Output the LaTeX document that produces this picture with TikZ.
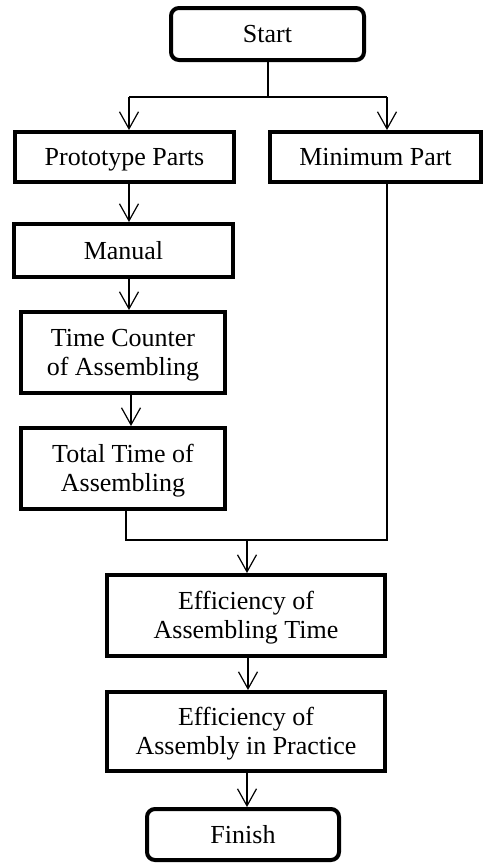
\documentclass[tikz,border=0pt]{standalone}
\usepackage{fontspec}
\setmainfont{Liberation Serif}
\usetikzlibrary{arrows.meta}
\newcommand{\twolines}[2]{\begin{tabular}[b]{@{}c@{}}#1\\#2\end{tabular}}
\begin{document}
\begin{tikzpicture}[x=1pt,y=1pt,
  box/.style={draw, line width=4pt, inner sep=0pt, align=center, font=\fontsize{26}{29.5}\selectfont},
  one/.style={text height=17.2pt, text depth=0pt},
  two/.style={text height=46.7pt, text depth=0pt},
  term/.style={box, rounded corners=8pt},
  conn/.style={line width=1.2pt},
  arr/.style={conn, -{Straight Barb[length=17pt,width=19pt,line width=1.2pt]}}]
\useasboundingbox (0,0) rectangle (484,-863);
\node[term, one, minimum width=193pt, minimum height=52pt] (start) at (267.5,-34) {Start};
\node[box, one, minimum width=219pt, minimum height=50pt] (proto) at (124.5,-157) {Prototype Parts};
\node[box, one, minimum width=211pt, minimum height=50pt] (mini) at (375.5,-157) {Minimum Part};
\node[box, one, minimum width=219pt, minimum height=53pt] (manual) at (123.5,-250.5) {Manual};
\node[box, two, minimum width=204pt, minimum height=81pt] (counter) at (123,-352.5) {\twolines{Time Counter}{of Assembling}};
\node[box, two, minimum width=204pt, minimum height=81pt] (total) at (123,-468.5) {\twolines{Total Time of}{Assembling}};
\node[box, two, minimum width=278pt, minimum height=81pt] (efftime) at (246,-615.5) {\twolines{Efficiency of}{Assembling Time}};
\node[box, two, minimum width=278pt, minimum height=79pt] (effprac) at (246,-731.5) {\twolines{Efficiency of}{Assembly in Practice}};
\node[term, one, minimum width=192pt, minimum height=51pt] (finish) at (243,-834.5) {Finish};
% top split
\coordinate (jt) at (268,-97);
\coordinate (jl) at (129,-97);
\coordinate (jr) at (387,-97);
\draw[conn] (start.south -| jt) -- (jt);
\draw[conn] (jl) -- (jr);
\draw[arr] (jl) -- (jl |- proto.north);
\draw[arr] (jr) -- (jr |- mini.north);
% left chain
\coordinate (c1) at (129,0);
\coordinate (c2) at (131,0);
\draw[arr] (c1 |- proto.south) -- (c1 |- manual.north);
\draw[arr] (c1 |- manual.south) -- (c1 |- counter.north);
\draw[arr] (c2 |- counter.south) -- (c2 |- total.north);
% merge
\coordinate (ml) at (126,-540);
\coordinate (mr) at (387,-540);
\coordinate (mm) at (247,-540);
\draw[conn] (ml |- total.south) -- (ml) -- (mr) -- (mr |- mini.south);
\draw[arr] (mm) -- (mm |- efftime.north);
\coordinate (c3) at (248,0);
\coordinate (c4) at (247,0);
\draw[arr] (c3 |- efftime.south) -- (c3 |- effprac.north);
\draw[arr] (c4 |- effprac.south) -- (c4 |- finish.north);
\end{tikzpicture}
\end{document}
